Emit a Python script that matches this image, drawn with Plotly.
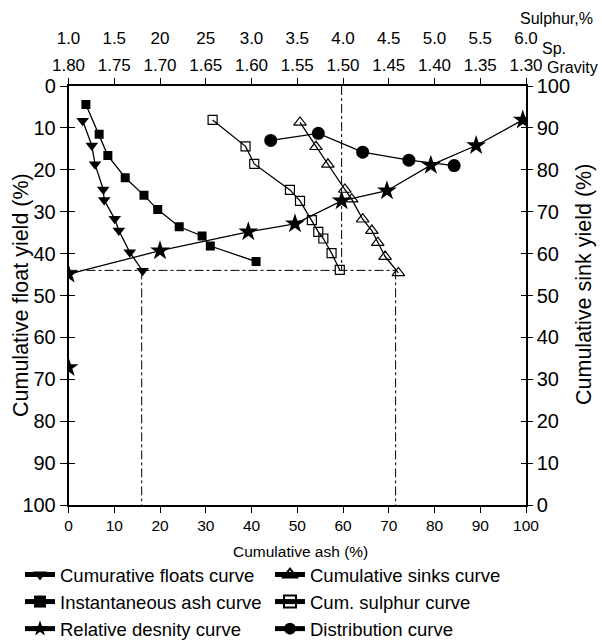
import plotly.graph_objects as go

# Axis tick values and labels
ash_ticks = list(range(0, 101, 10))
yield_ticks = list(range(0, 101, 10))
sp_gravity_labels = ["1.80", "1.75", "1.70", "1.65", "1.60", "1.55",
                     "1.50", "1.45", "1.40", "1.35", "1.30"]
sulphur_labels = ["1.0", "1.5", "20", "25", "3.0", "3.5",
                  "4.0", "4.5", "5.0", "5.5", "6.0"]

# Cumulative floats curve
floats_ash = [3.1, 5.1, 5.8, 7.6, 7.8, 10.1, 11.0, 13.4, 16.2]
floats_yield = [8.3, 14.2, 18.7, 24.7, 27.2, 31.7, 34.5, 39.7, 44.1]

# Cumulative sinks curve
sinks_ash = [50.6, 54.1, 56.7, 60.4, 61.9, 64.3, 66.3, 67.6, 69.2, 72.1]
sinks_yield = [8.7, 14.5, 18.7, 24.7, 27.0, 31.8, 34.5, 37.4, 40.7, 44.6]

# Instantaneous ash curve
inst_ash = [3.8, 6.7, 8.6, 12.4, 16.5, 19.5, 24.2, 29.2, 31.0, 41.0]
inst_yield = [4.4, 11.5, 16.6, 21.9, 26.1, 29.5, 33.6, 35.8, 38.2, 41.9]

# Cumulative sulphur curve
sulphur_ash = [31.5, 38.7, 40.6, 48.4, 50.6, 53.2, 54.6, 55.7, 57.5, 59.3]
sulphur_yield = [8.1, 14.4, 18.6, 24.8, 27.4, 32.0, 34.8, 36.4, 39.9, 43.9]

# Relative density curve
density_ash = [0.0, 20.0, 39.3, 49.5, 59.7, 69.6, 79.2, 89.1, 99.3]
density_yield = [44.9, 39.3, 34.8, 32.9, 27.4, 25.0, 18.9, 14.2, 8.1]
density_extra_ash = [0.0]
density_extra_yield = [67.2]

# Distribution curve
dist_ash = [44.2, 54.6, 64.3, 74.4, 84.3]
dist_yield = [13.0, 11.3, 15.8, 17.7, 19.0]

# Dash-dot construction lines
guide_yield = 44.0
guide_ash_floats = 16.0
guide_ash_mid = 59.7
guide_ash_sinks = 71.5

W, H = 602, 641
FONT = "Liberation Sans, Arial, sans-serif"

x_dom = [68.5 / W, 526 / W]
y_dom = [1 - 505 / H, 1 - 86 / H]

line_style = dict(color="black", width=1.3)

fig = go.Figure()

fig.add_trace(go.Scatter(
    x=floats_ash, y=floats_yield, mode="lines+markers",
    name="Cumurative floats curve", line=line_style,
    marker=dict(symbol="triangle-down", size=11, color="black")))
fig.add_trace(go.Scatter(
    x=sinks_ash, y=sinks_yield, mode="lines+markers",
    name="Cumulative sinks curve", line=line_style,
    marker=dict(symbol="triangle-up-open", size=11, color="black",
                line=dict(width=1.2))))
fig.add_trace(go.Scatter(
    x=inst_ash, y=inst_yield, mode="lines+markers",
    name="Instantaneous ash curve", line=line_style,
    marker=dict(symbol="square", size=9, color="black")))
fig.add_trace(go.Scatter(
    x=sulphur_ash, y=sulphur_yield, mode="lines+markers",
    name="Cum. sulphur curve", line=line_style,
    marker=dict(symbol="square-open", size=9, color="black",
                line=dict(width=1.2))))
fig.add_trace(go.Scatter(
    x=density_ash, y=density_yield, mode="lines+markers",
    name="Relative desnity curve", line=line_style,
    marker=dict(symbol="star", size=15, color="black")))
fig.add_trace(go.Scatter(
    x=dist_ash, y=dist_yield, mode="lines+markers",
    name="Distribution curve", line=line_style,
    marker=dict(symbol="circle", size=13, color="black")))
fig.add_trace(go.Scatter(
    x=density_extra_ash, y=density_extra_yield, mode="markers",
    showlegend=False, marker=dict(symbol="star", size=15, color="black")))

# Construction lines
guide = dict(color="black", width=1, dash="dashdot")
for x0, y0, x1, y1 in [
    (0, guide_yield, guide_ash_sinks, guide_yield),
    (guide_ash_floats, guide_yield, guide_ash_floats, 100),
    (guide_ash_mid, 0, guide_ash_mid, guide_yield),
    (guide_ash_sinks, guide_yield, guide_ash_sinks, 100),
]:
    fig.add_shape(type="line", xref="x", yref="y", x0=x0, y0=y0, x1=x1, y1=y1,
                  line=guide, layer="below")

axis_common = dict(showgrid=False, zeroline=False, showline=True,
                   linecolor="black", linewidth=1.5, tickcolor="black",
                   tickwidth=1.3, automargin=False)

fig.update_layout(
    width=W, height=H,
    margin=dict(l=0, r=0, t=0, b=0, autoexpand=False),
    paper_bgcolor="white", plot_bgcolor="white",
    font=dict(family=FONT, color="black"),
    xaxis=dict(domain=x_dom, range=[0, 100], tickvals=ash_ticks,
               ticks="outside", ticklen=6,
               tickfont=dict(size=15.5), anchor="y", **axis_common),
    xaxis2=dict(domain=x_dom, range=[0, 100], overlaying="x", side="top",
                anchor="y", tickvals=ash_ticks, ticktext=sp_gravity_labels,
                ticks="outside", ticklen=6,
                tickfont=dict(size=17), **axis_common),
    xaxis3=dict(domain=x_dom, range=[0, 100], overlaying="x", side="top",
                anchor="free", position=1 - 47 / H, tickvals=ash_ticks,
                ticktext=sulphur_labels, ticks="", showline=False,
                showgrid=False, zeroline=False, automargin=False,
                tickfont=dict(size=17)),
    yaxis=dict(domain=y_dom, range=[100, 0], tickvals=yield_ticks,
               ticks="outside", ticklen=7, anchor="x",
               tickfont=dict(size=20), **axis_common),
    yaxis3=dict(domain=y_dom, range=[100, 0], tickvals=yield_ticks,
                overlaying="y", side="left", anchor="x",
                ticks="inside", ticklen=7, showticklabels=False,
                **axis_common),
    yaxis2=dict(domain=y_dom, range=[0, 100], tickvals=yield_ticks,
                overlaying="y", side="right", anchor="x",
                ticks="outside", ticklen=5,
                tickfont=dict(size=20), **axis_common),
    yaxis4=dict(domain=y_dom, range=[0, 100], tickvals=yield_ticks,
                overlaying="y", side="right", anchor="x",
                ticks="inside", ticklen=5, showticklabels=False,
                **axis_common),
    legend=dict(orientation="h", x=20 / W, xanchor="left",
                y=1 - 556 / H, yanchor="top",
                font=dict(size=18.5),
                entrywidth=205, entrywidthmode="pixels",
                itemsizing="constant", tracegroupgap=0,
                bgcolor="rgba(0,0,0,0)"),
    showlegend=True,
)

# Empty traces so the overlaying axes are drawn
fig.add_trace(go.Scatter(x=[None], y=[None], xaxis="x2", yaxis="y2",
                         showlegend=False, hoverinfo="skip"))
fig.add_trace(go.Scatter(x=[None], y=[None], xaxis="x3", yaxis="y3",
                         showlegend=False, hoverinfo="skip"))
fig.add_trace(go.Scatter(x=[None], y=[None], xaxis="x", yaxis="y4",
                         showlegend=False, hoverinfo="skip"))

annotations = [
    dict(text="Cumulative float yield (%)", x=21 / W, y=1 - 295 / H,
         textangle=-90, font=dict(size=21.5)),
    dict(text="Cumulative sink yield (%)", x=584 / W, y=1 - 285 / H,
         textangle=-90, font=dict(size=21.5)),
    dict(text="Cumulative ash (%)", x=300 / W, y=1 - 551 / H,
         font=dict(size=15.5)),
    dict(text="Sulphur,%", x=556 / W, y=1 - 18 / H, font=dict(size=16)),
    dict(text="Sp.", x=554 / W, y=1 - 48 / H, font=dict(size=16)),
    dict(text="Gravity", x=572 / W, y=1 - 67 / H, font=dict(size=16)),
]
for a in annotations:
    a.update(xref="paper", yref="paper", showarrow=False,
             xanchor="center", yanchor="middle")
fig.update_layout(annotations=annotations)

fig.write_html("out.html")
